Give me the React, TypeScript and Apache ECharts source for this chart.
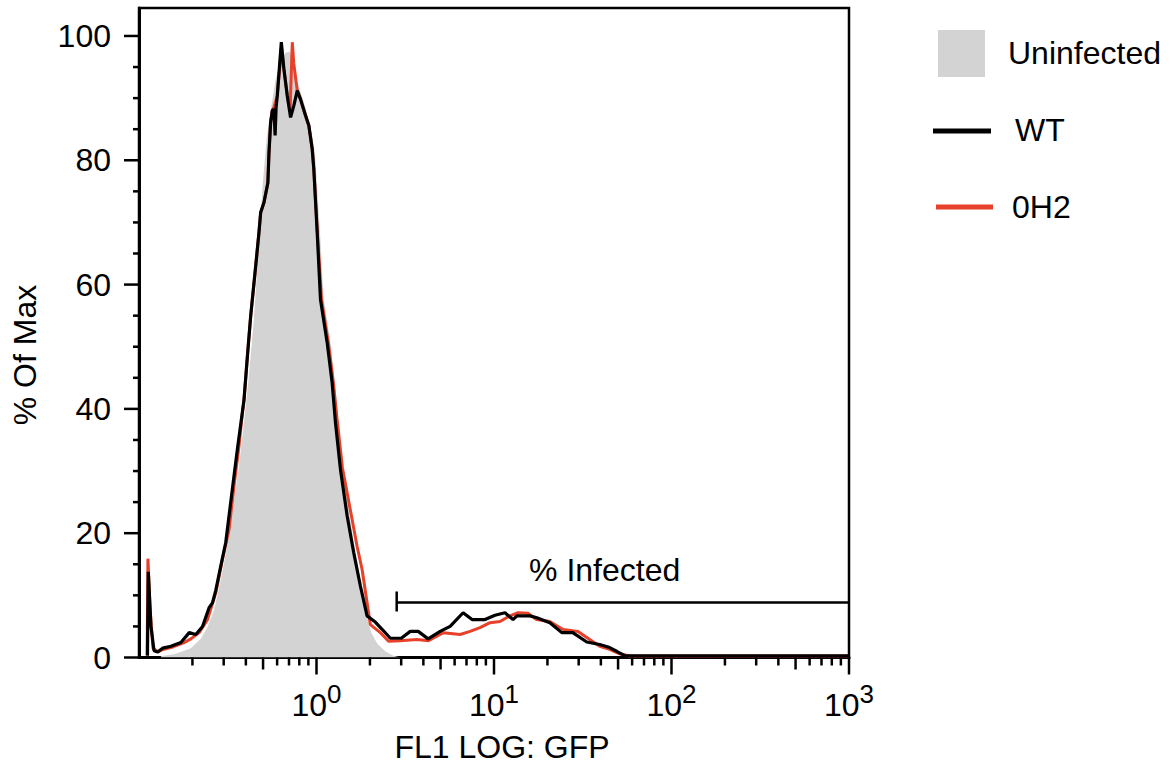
import React, { useEffect, useRef } from 'react';
import * as echarts from 'echarts';

const FONT = '"Liberation Sans", Arial, Helvetica, sans-serif';

// ---- data (x = FL1 fluorescence, y = % of max) ----
const uninfectedData: number[][] = [
  [0.1329, 0.2], [0.1614, 0.6], [0.1959, 1.5], [0.2230, 3.0], [0.2441, 5.0], [0.2638, 7.5],
  [0.2814, 11.0], [0.3003, 15.0], [0.3203, 19.5], [0.3417, 25.0], [0.3645, 30.5], [0.3889, 37.5],
  [0.4150, 45.0], [0.4426, 54.0], [0.4722, 66.0], [0.4972, 76.0], [0.5237, 83.5], [0.5515, 88.0],
  [0.5884, 93.0], [0.6277, 96.0], [0.6697, 97.3], [0.7052, 97.5], [0.7331, 96.5], [0.7721, 93.0],
  [0.8130, 91.0], [0.8562, 89.0], [0.9017, 86.5], [0.9458, 84.0], [0.9808, 81.0], [1.0065, 76.0],
  [1.0491, 68.0], [1.0947, 58.0], [1.194, 51.0], [1.274, 44.0], [1.329, 38.0], [1.418, 30.0],
  [1.532, 23.0], [1.656, 17.0], [1.790, 11.5], [1.909, 7.0], [2.037, 4.0], [2.201, 2.2],
  [2.441, 1.0], [2.708, 0.3], [2.965, 0],
];

const wtData: number[][] = [
  [0.1116, 0.3], [0.1128, 13.8], [0.1168, 5.0], [0.1215, 1.1], [0.1274, 0.9], [0.1358, 1.5],
  [0.1513, 1.8], [0.1722, 2.4], [0.1918, 4.0], [0.2090, 3.7], [0.2280, 5.0], [0.2482, 8.0],
  [0.2594, 8.8], [0.2707, 10.8], [0.2888, 14.7], [0.3081, 18.5], [0.3287, 25.0], [0.3583, 33.5],
  [0.3741, 37.5], [0.3906, 41.5], [0.4081, 48.5], [0.4260, 55.0], [0.4545, 63.0], [0.4741, 68.4],
  [0.4847, 71.6], [0.5058, 73.2], [0.5323, 76.4], [0.5394, 81.0], [0.5516, 86.1], [0.5637, 88.0],
  [0.5754, 88.2], [0.5846, 84.0], [0.5921, 88.5], [0.6014, 90.4], [0.6336, 99.0], [0.6550, 94.7],
  [0.6843, 90.4], [0.7145, 86.9], [0.7452, 88.8], [0.7792, 91.2], [0.8130, 89.8], [0.8673, 87.2],
  [0.9052, 85.6], [0.9458, 81.8], [0.9656, 78.6], [1.009, 68.4], [1.053, 57.6], [1.148, 50.7],
  [1.225, 44.2], [1.279, 37.8], [1.364, 30.3], [1.488, 22.8], [1.620, 16.9], [1.767, 11.5],
  [1.927, 6.7], [2.145, 5.7], [2.349, 4.5], [2.605, 3.1], [3.003, 3.1], [3.375, 4.2],
  [3.741, 4.2], [4.258, 3.0], [4.974, 4.2], [5.660, 5.0], [6.697, 7.2], [7.524, 6.1],
  [8.902, 6.1], [10.13, 6.8], [11.53, 7.2], [12.79, 6.1], [13.47, 6.7], [15.93, 6.7],
  [17.44, 6.4], [20.63, 5.6], [24.10, 4.0], [27.79, 4.0], [33.31, 2.5], [39.40, 2.1],
  [44.85, 1.6], [49.09, 1.0], [54.45, 0.3], [1000, 0.25],
];

const oh2Data: number[][] = [
  [0.1111, 0.3], [0.1123, 15.9], [0.1153, 8.0], [0.1199, 1.5], [0.1279, 0.9], [0.1362, 1.3],
  [0.1513, 1.6], [0.1797, 2.4], [0.1959, 3.0], [0.2182, 4.0], [0.2432, 6.1], [0.2707, 10.4],
  [0.2953, 15.8], [0.3216, 20.6], [0.3430, 27.6], [0.3660, 34.0], [0.3791, 38.3], [0.3906, 41.5],
  [0.4081, 48.5], [0.4260, 55.0], [0.4545, 63.0], [0.4741, 68.4], [0.4847, 71.6], [0.5058, 73.2],
  [0.5323, 76.4], [0.5394, 81.0], [0.5516, 86.1], [0.5637, 88.0], [0.5754, 88.5], [0.6014, 90.4],
  [0.6336, 98.0], [0.6550, 94.7], [0.6843, 90.4], [0.7098, 88.0], [0.7303, 99.0], [0.7452, 95.5],
  [0.7792, 91.2], [0.8130, 89.8], [0.8673, 87.2], [0.9052, 85.6], [0.9458, 81.8], [0.9656, 78.6],
  [1.013, 68.0], [1.067, 57.6], [1.168, 50.5], [1.246, 44.0], [1.304, 38.5], [1.400, 30.5],
  [1.488, 26.5], [1.693, 17.9], [1.806, 14.2], [2.011, 5.3], [2.289, 4.0], [2.548, 2.6],
  [2.965, 2.7], [3.679, 2.9], [4.274, 2.7], [5.191, 4.0], [6.442, 3.7], [7.331, 4.2],
  [8.341, 4.8], [9.495, 5.6], [10.81, 5.8], [12.30, 6.7], [13.69, 7.2], [15.58, 7.1],
  [17.37, 6.1], [20.63, 5.8], [24.51, 4.5], [29.76, 4.2], [34.62, 2.9], [39.40, 1.8],
  [44.85, 1.3], [51.04, 0.6], [58.07, 0.25], [1000, 0.25],
];

// gate: [start, end, y]
const gateData: number[][] = [[2.83, 1000, 8.85]];
const gateLabel = '% Infected';
const gateLabelX = 42;

// ticks
const yTickValues = [0, 20, 40, 60, 80, 100];
const yMinorTickValues = [5, 10, 15, 25, 30, 35, 45, 50, 55, 65, 70, 75, 85, 90, 95];
const xMajorTickValues = [1, 10, 100, 1000];
const xMidTickValues = [0.5, 5, 50, 500];
const xMinorTickValues = [
  0.2, 0.3, 0.4, 0.6, 0.7, 0.8, 0.9,
  2, 3, 4, 6, 7, 8, 9,
  20, 30, 40, 60, 70, 80, 90,
  200, 300, 400, 600, 700, 800, 900,
];

const legendNames = ['Uninfected', 'WT', '0H2'];
const COLORS = { uninfected: '#d3d3d3', wt: '#000000', oh2: '#e8412a' };

const X_MIN = 0.1;
const X_MAX = 1000;
const Y_MAX = 104.5;
const FS = 32;

function xTickSeries(values: number[], len: number) {
  return {
    type: 'custom',
    clip: false,
    silent: true,
    z: 10,
    data: values.map((v) => [v, 0]),
    renderItem: (_p: any, api: any) => {
      const p = api.coord([api.value(0), 0]);
      return {
        type: 'line',
        shape: { x1: p[0], y1: p[1], x2: p[0], y2: p[1] + len },
        style: { stroke: '#000', lineWidth: 2.5 },
      };
    },
  };
}

function yTickSeries(values: number[], len: number) {
  return {
    type: 'custom',
    clip: false,
    silent: true,
    z: 10,
    data: values.map((v) => [X_MIN, v]),
    renderItem: (_p: any, api: any) => {
      const p = api.coord([X_MIN, api.value(1)]);
      return {
        type: 'line',
        shape: { x1: p[0] - len, y1: p[1], x2: p[0], y2: p[1] },
        style: { stroke: '#000', lineWidth: 2.5 },
      };
    },
  };
}

export default function App() {
  const ref = useRef<HTMLDivElement>(null);

  useEffect(() => {
    if (!ref.current) return;
    const chart = echarts.init(ref.current, null, { renderer: 'svg' });

    const option: any = {
      animation: false,
      backgroundColor: '#ffffff',
      grid: {
        left: 139,
        right: 1175 - 849,
        top: 8,
        bottom: 767 - 657.5,
        show: true,
        borderColor: '#000',
        borderWidth: 2.5,
        backgroundColor: 'transparent',
      },
      xAxis: {
        type: 'log',
        logBase: 10,
        min: X_MIN,
        max: X_MAX,
        axisLine: { show: true, onZero: false, lineStyle: { color: '#000', width: 3 } },
        axisTick: { show: false },
        minorTick: { show: false },
        splitLine: { show: false },
        axisLabel: {
          margin: 23,
          color: '#000',
          formatter: (v: number) => {
            if (v < 0.5) return '';
            const e = Math.round(Math.log10(v));
            return `{b|10}{s|${e}}`;
          },
          rich: {
            b: { fontSize: FS, fontFamily: FONT, color: '#000' },
            s: { fontSize: 26, fontFamily: FONT, color: '#000', padding: [0, 0, 22, 0] },
          },
        },
      },
      yAxis: {
        type: 'value',
        min: 0,
        max: Y_MAX,
        interval: 20,
        axisLine: { show: true, onZero: false, lineStyle: { color: '#000', width: 3 } },
        axisTick: { show: false },
        minorTick: { show: false },
        splitLine: { show: false },
        axisLabel: {
          margin: 28,
          fontSize: FS,
          fontFamily: FONT,
          color: '#000',
          formatter: (v: number) => (v % 20 === 0 && v <= 100 ? String(v) : ''),
        },
      },
      series: [
        {
          name: legendNames[0],
          type: 'line',
          data: uninfectedData,
          showSymbol: false,
          symbol: 'none',
          lineStyle: { width: 0, color: COLORS.uninfected },
          itemStyle: { color: COLORS.uninfected },
          areaStyle: { color: COLORS.uninfected, opacity: 1 },
          z: 2,
        },
        {
          name: legendNames[2],
          type: 'line',
          data: oh2Data,
          showSymbol: false,
          symbol: 'none',
          lineStyle: { width: 3, color: COLORS.oh2 },
          itemStyle: { color: COLORS.oh2 },
          z: 3,
        },
        {
          name: legendNames[1],
          type: 'line',
          data: wtData,
          showSymbol: false,
          symbol: 'none',
          lineStyle: { width: 3.2, color: COLORS.wt },
          itemStyle: { color: COLORS.wt },
          z: 4,
        },
        {
          type: 'custom',
          clip: false,
          silent: true,
          z: 5,
          data: gateData,
          renderItem: (_p: any, api: any) => {
            const y = api.value(2);
            const p1 = api.coord([api.value(0), y]);
            const p2 = api.coord([api.value(1), y]);
            const pl = api.coord([gateLabelX, y]);
            return {
              type: 'group',
              children: [
                {
                  type: 'line',
                  shape: { x1: p1[0], y1: p1[1], x2: p2[0], y2: p2[1] },
                  style: { stroke: '#000', lineWidth: 2.5 },
                },
                {
                  type: 'line',
                  shape: { x1: p1[0], y1: p1[1] - 11, x2: p1[0], y2: p1[1] + 9 },
                  style: { stroke: '#000', lineWidth: 2.5 },
                },
                {
                  type: 'text',
                  x: pl[0],
                  y: pl[1] - 32,
                  style: {
                    text: gateLabel,
                    fill: '#000',
                    fontSize: FS,
                    fontFamily: FONT,
                    align: 'center',
                    verticalAlign: 'middle',
                  },
                },
              ],
            };
          },
        },
        xTickSeries(xMajorTickValues, 17),
        xTickSeries(xMidTickValues, 12),
        xTickSeries(xMinorTickValues, 8),
        yTickSeries(yTickValues, 15),
        yTickSeries(yMinorTickValues, 6),
      ],
      graphic: [
        {
          type: 'text',
          x: 25,
          y: 355,
          rotation: Math.PI / 2,
          style: {
            text: '% Of Max',
            fill: '#000',
            fontSize: FS,
            fontFamily: FONT,
            align: 'center',
            verticalAlign: 'middle',
          },
        },
        {
          type: 'text',
          x: 502,
          y: 747,
          style: {
            text: 'FL1 LOG: GFP',
            fill: '#000',
            fontSize: FS,
            fontFamily: FONT,
            align: 'center',
            verticalAlign: 'middle',
          },
        },
        { type: 'rect', shape: { x: 938, y: 30, width: 47, height: 47 }, style: { fill: COLORS.uninfected } },
        {
          type: 'text',
          x: 1008,
          y: 53,
          style: { text: legendNames[0], fill: '#000', fontSize: FS, fontFamily: FONT, verticalAlign: 'middle' },
        },
        { type: 'line', shape: { x1: 933, y1: 131, x2: 991, y2: 131 }, style: { stroke: COLORS.wt, lineWidth: 5 } },
        {
          type: 'text',
          x: 1015,
          y: 130,
          style: { text: legendNames[1], fill: '#000', fontSize: FS, fontFamily: FONT, verticalAlign: 'middle' },
        },
        { type: 'line', shape: { x1: 936, y1: 207, x2: 993, y2: 207 }, style: { stroke: COLORS.oh2, lineWidth: 5 } },
        {
          type: 'text',
          x: 1012,
          y: 207,
          style: { text: legendNames[2], fill: '#000', fontSize: FS, fontFamily: FONT, verticalAlign: 'middle' },
        },
      ],
    };

    chart.setOption(option);
    return () => chart.dispose();
  }, []);

  return (
    <div
      ref={ref}
      style={{ position: 'fixed', left: 0, top: 0, width: 1175, height: 767, background: '#fff' }}
    />
  );
}
